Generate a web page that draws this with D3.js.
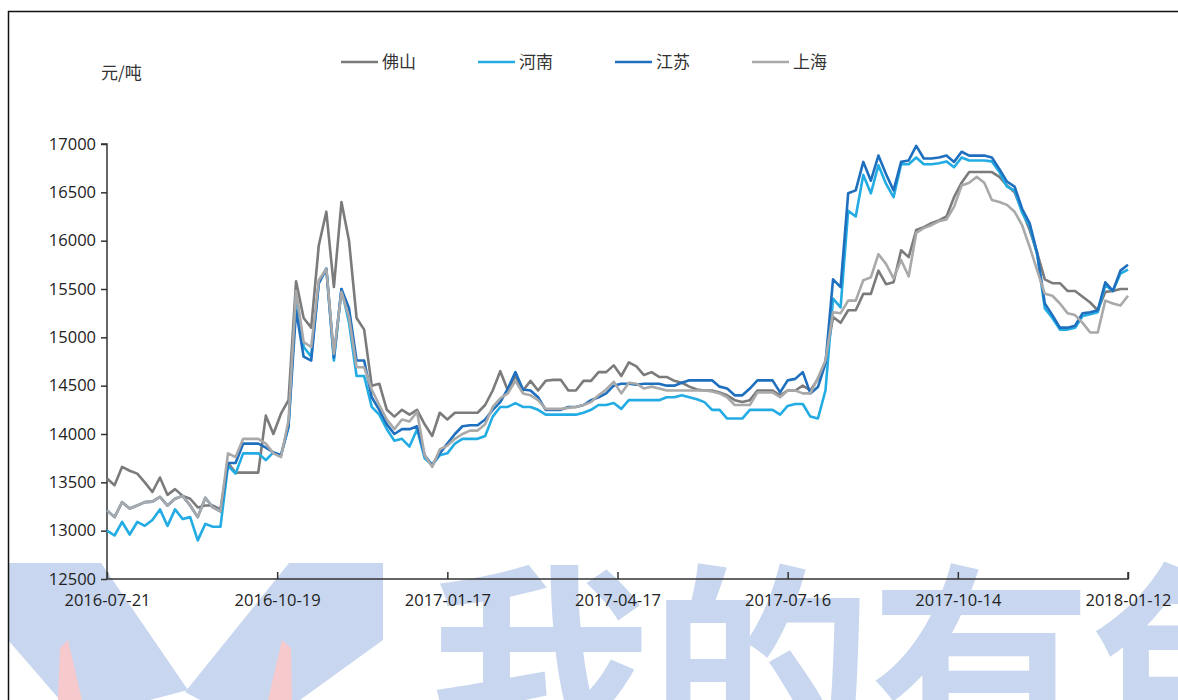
<!DOCTYPE html>
<html lang="zh">
<head>
    <meta charset="UTF-8">
    <title>佛山 河南 江苏 上海 价格走势</title>
    <script src="https://d3js.org/d3.v7.min.js"></script>
    <style>
        body {
            margin: 0;
            background: #fff;
            font-family: "Open Sans", "Noto Sans CJK SC", sans-serif;
        }
        .tick text {
            font-family: "Open Sans", sans-serif;
            font-size: 16.5px;
            fill: #222;
        }
        .legend text, .unit {
            font-family: "Noto Sans CJK SC", sans-serif;
            font-size: 17px;
            fill: #333;
        }
    </style>
</head>
<body>
    <div id="chart"></div>
    <script>
        // series order: 佛山, 河南, 江苏, 上海 ; one value every 4 days from 2016-07-21
        const seriesNames = ["佛山", "河南", "江苏", "上海"];
        const seriesColors = ["#7b7b7b", "#22ace3", "#1f6fbf", "#a9a9a9"];
        const startDate = "2016-07-21";
        const stepDays = 4;
        const tickLabels = ["2016-07-21", "2016-10-19", "2017-01-17", "2017-04-17", "2017-07-16", "2017-10-14", "2018-01-12"];
        const yTicks = [12500, 13000, 13500, 14000, 14500, 15000, 15500, 16000, 16500, 17000];

        const foshan = [
            13540, 13470, 13660, 13620, 13590, 13500, 13400, 13550, 13370, 13430,
            13360, 13330, 13240, 13260, 13260, 13220, 13700, 13600, 13600, 13600,
            13600, 14190, 14000, 14210, 14350, 15580, 15200, 15100, 15950, 16300,
            15520, 16400, 16000, 15200, 15080, 14500, 14520, 14250, 14180, 14250,
            14200, 14250, 14100, 13980, 14220, 14150, 14220, 14220, 14220, 14220,
            14300, 14450, 14650, 14450, 14600, 14450, 14550, 14450, 14550, 14560,
            14560, 14450, 14450, 14550, 14550, 14640, 14640, 14710, 14600, 14740,
            14700, 14610, 14640, 14590, 14590, 14550, 14530, 14490, 14460, 14450,
            14450, 14430, 14400, 14350, 14330, 14350, 14450, 14450, 14450, 14400,
            14450, 14450, 14500, 14450, 14570, 14750, 15210, 15150, 15280, 15280,
            15450, 15450, 15690, 15550, 15570, 15900, 15830, 16110, 16140, 16180,
            16210, 16250, 16450, 16600, 16710, 16710, 16710, 16710, 16660, 16570,
            16500, 16310, 16110, 15870, 15600, 15560, 15560, 15480, 15480, 15420,
            15360, 15280, 15470, 15480, 15500, 15500
        ];
        const henan = [
            13000, 12950, 13090, 12960, 13090, 13050, 13110, 13220, 13050, 13220,
            13120, 13140, 12900, 13070, 13040, 13040, 13670, 13590, 13800, 13800,
            13800, 13730, 13810, 13780, 14070, 15450, 14900, 14800, 15560, 15710,
            14760, 15500, 15150, 14600, 14600, 14280, 14200, 14050, 13930, 13950,
            13870, 14050, 13750, 13680, 13780, 13800, 13900, 13950, 13950, 13950,
            13980, 14180, 14280, 14280, 14320, 14280, 14280, 14250, 14200, 14200,
            14200, 14200, 14200, 14220, 14250, 14300, 14300, 14320, 14260, 14350,
            14350, 14350, 14350, 14350, 14380, 14380, 14400, 14380, 14360, 14330,
            14250, 14250, 14160, 14160, 14160, 14250, 14250, 14250, 14250, 14200,
            14290, 14310, 14310, 14180, 14160, 14450, 15400, 15310, 16310, 16250,
            16680, 16490, 16780, 16590, 16450, 16790, 16790, 16860, 16790, 16790,
            16800, 16820, 16760, 16860, 16830, 16830, 16830, 16820, 16710, 16560,
            16520, 16290, 16150, 15850, 15300, 15200, 15080, 15080, 15100, 15220,
            15240, 15260, 15540, 15480, 15660, 15700
        ];
        const jiangsu = [
            13210, 13140, 13295, 13230, 13260, 13295, 13300, 13350, 13260, 13330,
            13360, 13260, 13140, 13340, 13240, 13200, 13700, 13700, 13900, 13900,
            13900, 13860, 13810, 13780, 14080, 15280, 14800, 14760, 15560, 15710,
            14790, 15500, 15300, 14760, 14760, 14380, 14250, 14100, 14000, 14050,
            14050, 14080, 13780, 13680, 13800, 13900, 14000, 14080, 14090, 14090,
            14150, 14250, 14330, 14470, 14640, 14460, 14450, 14380, 14250, 14250,
            14250, 14280, 14280, 14300, 14350, 14380, 14420, 14500, 14520, 14520,
            14510, 14520, 14520, 14520, 14500, 14500, 14530, 14555, 14555, 14555,
            14555, 14490, 14470, 14400, 14400, 14470, 14555, 14555, 14555, 14430,
            14555, 14570, 14640, 14420, 14485, 14730, 15600, 15520, 16490, 16520,
            16815, 16620, 16880, 16690, 16520, 16815, 16830, 16980, 16850, 16850,
            16860, 16880, 16815, 16920, 16880, 16880, 16880, 16860, 16740, 16610,
            16560, 16330, 16180, 15870, 15350, 15230, 15100, 15100, 15120, 15250,
            15260, 15280, 15570, 15480, 15690, 15750
        ];
        const shanghai = [
            13210, 13140, 13295, 13230, 13260, 13295, 13300, 13350, 13260, 13330,
            13360, 13260, 13140, 13340, 13240, 13200, 13800, 13760, 13950, 13950,
            13950, 13900, 13800, 13760, 14140, 15480, 14950, 14900, 15590, 15710,
            14830, 15470, 15210, 14690, 14690, 14460, 14300, 14150, 14050, 14150,
            14130, 14230, 13780, 13660, 13840, 13880, 13950, 14000, 14035, 14035,
            14100, 14280, 14370, 14420, 14550, 14420, 14400, 14350, 14260, 14260,
            14260, 14270, 14280, 14300, 14330, 14400, 14460, 14540, 14420, 14530,
            14520, 14470, 14490, 14470, 14450, 14450, 14450, 14450, 14450, 14450,
            14440, 14420, 14380, 14300, 14300, 14300, 14430, 14430, 14430, 14380,
            14450, 14450, 14420, 14420, 14580, 14760, 15260, 15250, 15380, 15380,
            15590, 15620, 15860, 15760, 15610, 15800, 15630, 16080, 16130, 16160,
            16200, 16220, 16350, 16570, 16600, 16660, 16600, 16420, 16400, 16370,
            16300, 16160, 15935, 15690, 15450, 15430, 15350, 15250, 15230, 15150,
            15050, 15050, 15380, 15350, 15330, 15430
        ];

        const width = 1178, height = 700;
        const plot = { left: 107, right: 1128, top: 144, bottom: 579 };

        const svg = d3.select("#chart")
            .append("svg")
            .attr("width", width)
            .attr("height", height);

        // watermark logo and text behind the chart
        const wm = svg.append("g").attr("fill", "#c8d7ef");
        wm.append("path").attr("d", "M8,563 L101,563 L188,690 L150,700 L60,700 L8,640 Z");
        wm.append("path").attr("d", "M289,563 L383,563 L383,640 L300,700 L200,700 L185,692 Z");
        wm.append("path").attr("fill", "#f6c9cc").attr("d", "M60,648 L68,640 L82,700 L58,700 Z");
        wm.append("path").attr("fill", "#f6c9cc").attr("d", "M282,640 L291,648 L292,700 L268,700 Z");
        wm.append("text")
            .attr("x", 430)
            .attr("y", 752)
            .attr("font-family", "Noto Sans CJK SC")
            .attr("font-weight", 700)
            .attr("font-size", 222)
            .attr("letter-spacing", -2)
            .text("我的有色");

        // frame
        svg.append("path")
            .attr("d", `M8.5,${height} L8.5,11.5 L${width},11.5`)
            .attr("fill", "none")
            .attr("stroke", "#111")
            .attr("stroke-width", 1.5);

        const parse = d3.timeParse("%Y-%m-%d");
        const start = parse(startDate);
        const dates = foshan.map((d, i) => d3.timeDay.offset(start, i * stepDays));

        const x = d3.scaleTime()
            .domain([parse(tickLabels[0]), parse(tickLabels[tickLabels.length - 1])])
            .range([plot.left, plot.right]);

        const y = d3.scaleLinear()
            .domain([12500, 17000])
            .range([plot.bottom, plot.top]);

        const yAxis = svg.append("g")
            .attr("transform", `translate(${plot.left},0)`)
            .call(d3.axisLeft(y).tickValues(yTicks).tickSize(6).tickPadding(5).tickFormat(d3.format("d")));
        yAxis.selectAll("path, line").attr("stroke", "#333").attr("stroke-width", 1.5);
        yAxis.select(".domain").attr("d", `M-6,${plot.top}H0V${plot.bottom}`);

        const xAxis = svg.append("g")
            .attr("transform", `translate(0,${plot.bottom})`)
            .call(d3.axisBottom(x).tickValues(tickLabels.map(parse)).tickSize(-7).tickPadding(15)
                .tickFormat(d3.timeFormat("%Y-%m-%d")));
        xAxis.selectAll("path, line").attr("stroke", "#333").attr("stroke-width", 1.5);
        xAxis.select(".domain").attr("d", `M${plot.left},0H${plot.right}V-7`);

        const line = d3.line()
            .x((d, i) => x(dates[i]))
            .y(d => y(d));

        [foshan, henan, jiangsu, shanghai].forEach((values, k) => {
            svg.append("path")
                .datum(values)
                .attr("fill", "none")
                .attr("stroke", seriesColors[k])
                .attr("stroke-width", 2.6)
                .attr("stroke-linejoin", "round")
                .attr("d", line);
        });

        // unit label
        svg.append("text")
            .attr("class", "unit")
            .attr("x", 101)
            .attr("y", 79)
            .text("元/吨");

        // legend
        const legend = svg.append("g").attr("class", "legend");
        seriesNames.forEach((name, k) => {
            const lx = 341 + k * 137;
            legend.append("line")
                .attr("x1", lx).attr("x2", lx + 37)
                .attr("y1", 62).attr("y2", 62)
                .attr("stroke", seriesColors[k])
                .attr("stroke-width", 2.6);
            legend.append("text")
                .attr("x", lx + 41)
                .attr("y", 68)
                .text(name);
        });
    </script>
</body>
</html>
